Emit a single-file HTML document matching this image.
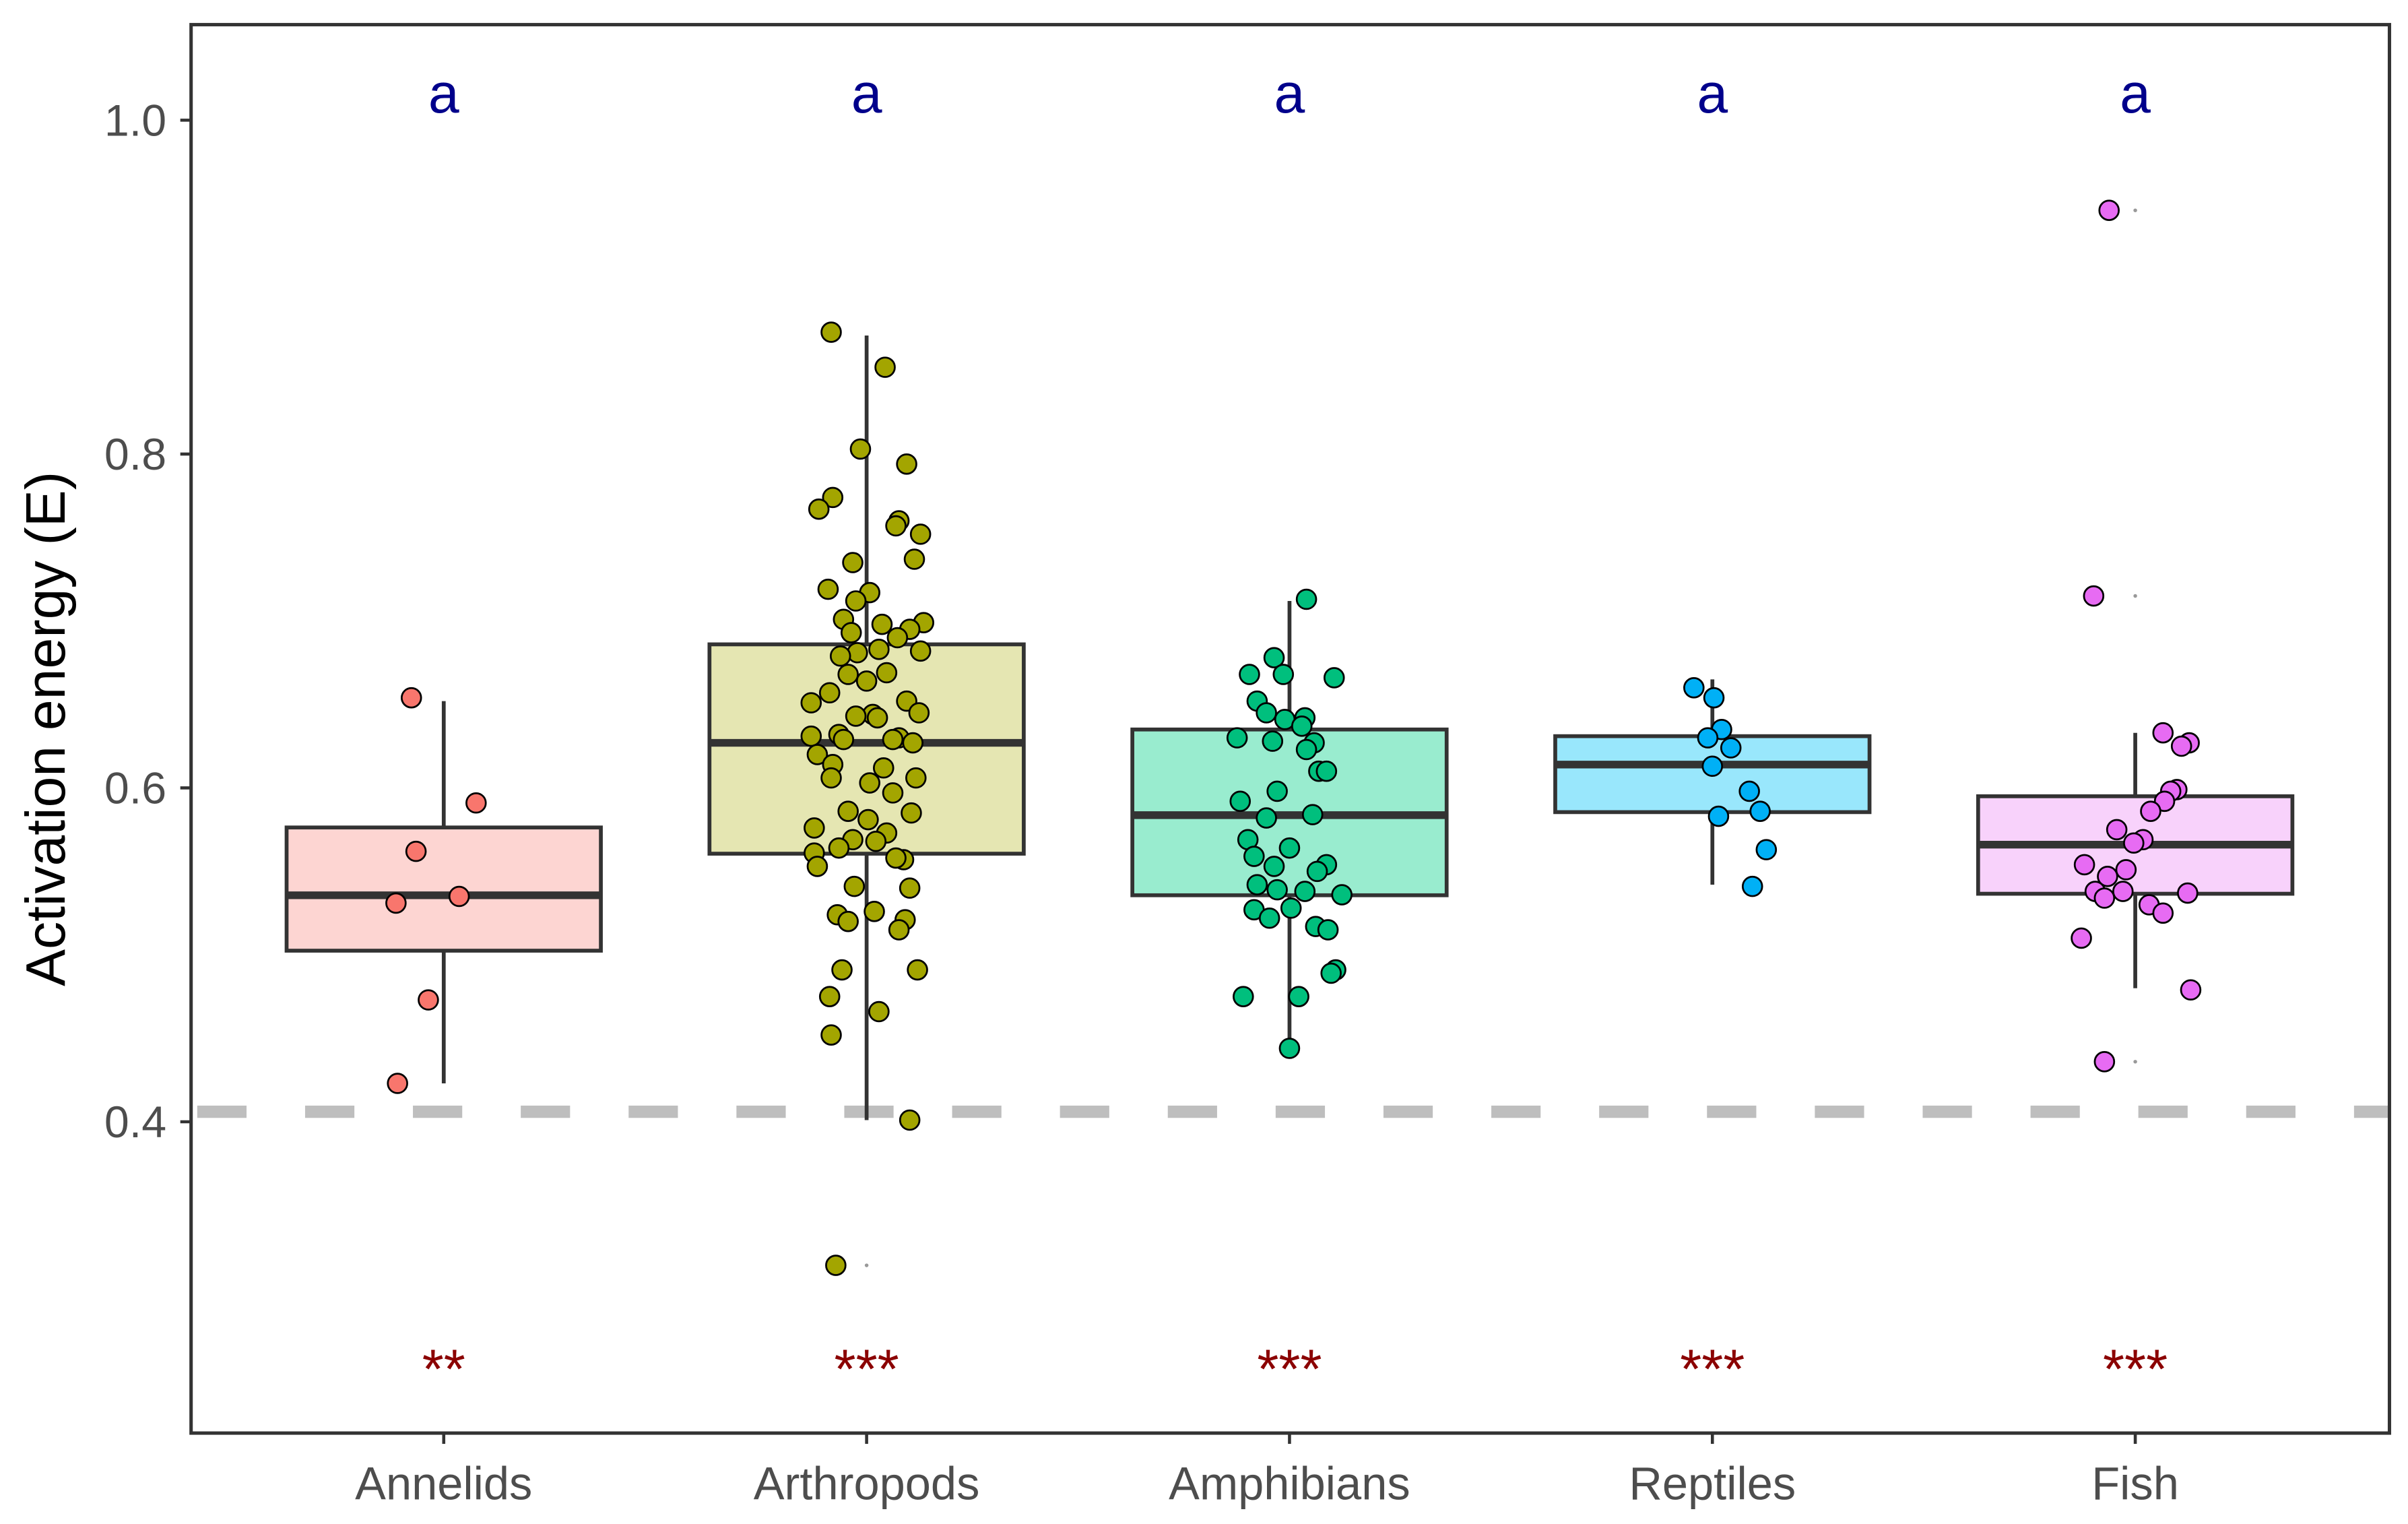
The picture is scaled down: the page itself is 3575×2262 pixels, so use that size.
<!DOCTYPE html>
<html><head><meta charset="utf-8"><style>html,body{margin:0;padding:0;background:#fff}svg{display:block}</style></head>
<body>
<svg id="chart" xmlns="http://www.w3.org/2000/svg" width="3575" height="2262" viewBox="0 0 1563 989" font-family="Liberation Sans, sans-serif">
<rect x="0" y="0" width="1563" height="989" fill="#fff"/>
<g id="plot"></g>
</svg>
<script>
const categories = ["Annelids","Arthropods","Amphibians","Reptiles","Fish"];
const pointColors = ["#F8766D","#A3A500","#00BF7D","#00B0F6","#E76BF3"];
const boxFills = ["#FDD5D2","#E5E6B2","#99ECCF","#99E7FC","#F8D2FB"];
const q1 = [0.5025,0.5606,0.5357,0.5855,0.5366];
const medians = [0.5357,0.627,0.5837,0.614,0.566];
const q3 = [0.5763,0.686,0.635,0.631,0.595];
const whiskerLow = [0.423,0.401,0.444,0.542,0.480];
const whiskerHigh = [0.652,0.871,0.712,0.665,0.633];
const outliers = [[],[0.314],[],[],[0.946,0.715,0.436]];
const letters = ["a","a","a","a","a"];
const stars = ["**","***","***","***","***"];
const yTicks = [0.4,0.6,0.8,1.0];
const yTickLabels = ["0.4","0.6","0.8","1.0"];
const refLine = 0.406;
const vals0 = [0.654,0.591,0.562,0.531,0.535,0.473,0.423];
const jit0 = [-21,21,-18,-31,10,-10,-30];
const vals1 = [0.873,0.852,0.803,0.794,0.774,0.767,0.760,0.757,0.752,0.737,0.735,0.719,0.717,0.712,0.701,0.698,0.699,0.695,0.693,0.690,0.683,0.682,0.681,0.679,0.668,0.669,0.664,0.657,0.652,0.651,0.644,0.643,0.645,0.642,0.632,0.631,0.630,0.629,0.629,0.627,0.620,0.614,0.612,0.606,0.606,0.603,0.597,0.586,0.585,0.581,0.576,0.573,0.569,0.568,0.564,0.561,0.557,0.558,0.553,0.541,0.540,0.524,0.526,0.520,0.521,0.515,0.491,0.491,0.475,0.466,0.452,0.401,0.314];
const jit1 = [-23,12,-4,26,-22,-31,21,19,35,31,-9,-25,2,-7,-15,10,37,28,-10,20,8,35,-6,-17,-12,13,0,-24,26,-36,4,-7,34,7,-18,-36,21,-15,17,30,-32,-22,11,-23,32,2,17,-12,29,1,-34,13,-9,6,-18,-34,24,19,-32,-8,28,-19,5,-12,25,21,-16,33,-24,8,-23,28,-20];
const vals2 = [0.713,0.678,0.668,0.668,0.666,0.652,0.645,0.641,0.642,0.637,0.630,0.628,0.627,0.623,0.610,0.610,0.598,0.592,0.584,0.582,0.569,0.564,0.559,0.554,0.553,0.550,0.542,0.539,0.538,0.536,0.527,0.528,0.522,0.517,0.515,0.491,0.489,0.475,0.475,0.444];
const jit2 = [11,-10,-26,-4,29,-21,-15,-3,10,8,-34,-11,16,11,19,24,-8,-32,15,-15,-27,0,-23,24,-10,18,-21,-8,10,34,-23,1,-13,17,25,30,27,-30,6,0];
const vals3 = [0.660,0.654,0.635,0.630,0.624,0.613,0.598,0.586,0.583,0.563,0.541];
const jit3 = [-12,1,6,-3,12,0,24,31,4,35,26];
const vals4 = [0.946,0.715,0.633,0.627,0.625,0.599,0.598,0.592,0.586,0.575,0.569,0.567,0.554,0.551,0.547,0.538,0.538,0.537,0.534,0.530,0.525,0.510,0.479,0.436];
const jit4 = [-17,-27,18,35,30,27,23,19,10,-12,5,-1,-33,-6,-18,-26,-8,34,-20,9,18,-35,36,-20];
const allVals = [vals0,vals1,vals2,vals3,vals4];
const allJit = [jit0,jit1,jit2,jit3,jit4];

const NS="http://www.w3.org/2000/svg";
const panel={l:124,r:1551,t:16,b:930};
const yScale=v=>78+(1.0-v)*1083.3;
const xScale=i=>288+i*274.5;
const halfW=102;
const g=document.getElementById('plot');
function mk(tag,attrs,parent){const e=document.createElementNS(NS,tag);for(const k in attrs)e.setAttribute(k,attrs[k]);(parent||g).appendChild(e);return e;}

const rl=mk('line',{x1:panel.l,x2:panel.r,y1:yScale(refLine),y2:yScale(refLine),stroke:'#BEBEBE','stroke-width':8,'stroke-dasharray':'32 38','stroke-dashoffset':'-4'});



categories.forEach((c,i)=>{
  const x=xScale(i);
  const grp=mk('g',{});
  
  
  mk('line',{x1:x,x2:x,y1:yScale(whiskerLow[i]),y2:yScale(q1[i]),stroke:'#333','stroke-width':2.5},grp);
  mk('line',{x1:x,x2:x,y1:yScale(q3[i]),y2:yScale(whiskerHigh[i]),stroke:'#333','stroke-width':2.5},grp);
  mk('rect',{x:x-halfW,y:yScale(q3[i]),width:2*halfW,height:yScale(q1[i])-yScale(q3[i]),fill:boxFills[i],stroke:'#333','stroke-width':2.5},grp);
  mk('line',{x1:x-halfW,x2:x+halfW,y1:yScale(medians[i]),y2:yScale(medians[i]),stroke:'#333','stroke-width':5},grp);
  outliers[i].forEach(o=>{mk('circle',{cx:x,cy:yScale(o),r:1.2,fill:'#999'},grp);});
  const pg=mk('g',{});
  
  
  allVals[i].forEach((v,j)=>{
    const p=mk('circle',{cx:x+allJit[i][j],cy:yScale(v),r:6.3,fill:pointColors[i],stroke:'#000','stroke-width':1.2},pg);
    
    
  });
  const lt=mk('text',{x:x,y:73,'text-anchor':'middle','font-size':36,fill:'#00008B'});
  lt.textContent=letters[i];
  
  
  const st=mk('text',{x:x,y:901,'text-anchor':'middle','font-size':36,fill:'#8B0000'});
  st.textContent=stars[i];
  
  
  mk('line',{x1:x,x2:x,y1:panel.b,y2:panel.b+7,stroke:'#333','stroke-width':2});
  const xl=mk('text',{x:x,y:973,'text-anchor':'middle','font-size':30,fill:'#4D4D4D'});
  xl.textContent=c;
  
  
});

yTicks.forEach((t,i)=>{
  const y=yScale(t);
  mk('line',{x1:panel.l-7,x2:panel.l,y1:y,y2:y,stroke:'#333','stroke-width':2});
  const tl=mk('text',{x:108,y:y+10,'text-anchor':'end','font-size':29,fill:'#4D4D4D'});
  tl.textContent=yTickLabels[i];
  
  
});

const fr=mk('rect',{x:panel.l,y:panel.t,width:panel.r-panel.l,height:panel.b-panel.t,fill:'none',stroke:'#333','stroke-width':2.2});


const yt=mk('text',{x:0,y:0,'text-anchor':'middle','font-size':36,fill:'#000',transform:'translate(42,473) rotate(-90)'});
yt.textContent='Activation energy (E)';


</script>
</body></html>
